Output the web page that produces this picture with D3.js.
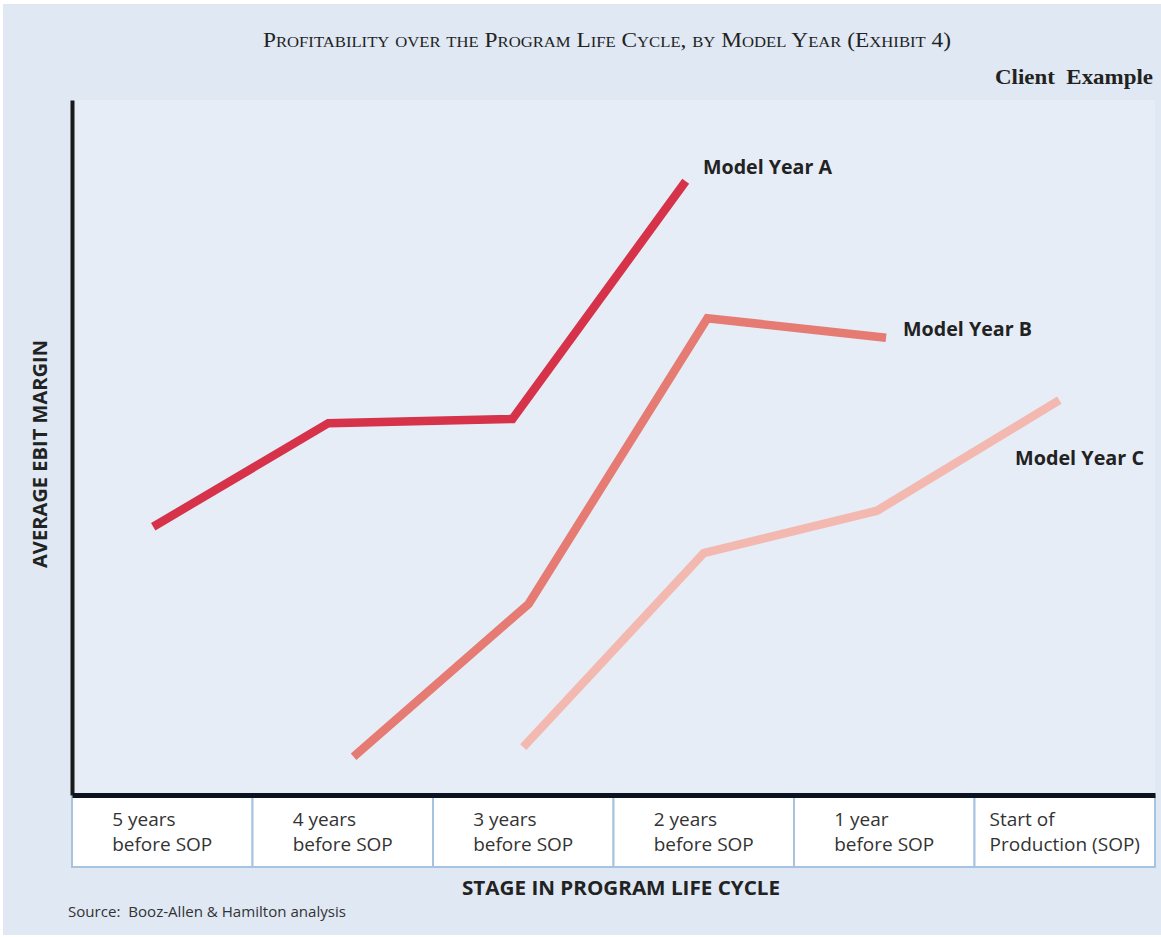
<!DOCTYPE html>
<html>
<head>
<meta charset="utf-8">
<script src="https://cdn.jsdelivr.net/npm/d3@7"></script>
<style>
  body { margin: 0; background: #fff; }
  svg { display: block; }
</style>
</head>
<body>
<div id="chart"></div>
<script>
// stages on the x axis (one table cell each)
const stages = [
  ["5 years", "before SOP"],
  ["4 years", "before SOP"],
  ["3 years", "before SOP"],
  ["2 years", "before SOP"],
  ["1 year", "before SOP"],
  ["Start of", "Production (SOP)"]
];

// series: stage position (0 = 5 years before SOP) and relative EBIT margin (0-100, unitless)
const stageA = [-0.05, 0.92, 1.94, 2.90];
const marginA = [38.6, 53.5, 54.1, 88.3];
const stageB = [1.06, 2.03, 3.02, 4.01];
const marginB = [5.5, 27.5, 68.6, 65.8];
const stageC = [2.0, 3.0, 3.96, 4.97];
const marginC = [6.9, 34.8, 40.9, 56.8];

const seriesNames = ["Model Year A", "Model Year B", "Model Year C"];
const seriesColors = ["#d6324a", "#e57b72", "#f3b9b0"];

const W = 1161, H = 937;
const plot = { left: 72, right: 1155, top: 100, bottom: 795 };

const svg = d3.select("#chart").append("svg")
  .attr("width", W).attr("height", H);

// backgrounds
svg.append("rect").attr("x", 3).attr("y", 4).attr("width", W - 3).attr("height", H - 6)
  .attr("fill", "#dfe8f3");
svg.append("rect").attr("x", plot.left).attr("y", plot.top)
  .attr("width", plot.right - plot.left).attr("height", plot.bottom - plot.top)
  .attr("fill", "#e6edf7");

// scales
let xBand = d3.scaleBand().domain(d3.range(stages.length)).range([plot.left, plot.right]);
let xPos = d3.scaleLinear().domain([-0.5, stages.length - 0.5]).range([plot.left, plot.right]);
let y = d3.scaleLinear().domain([0, 100]).range([plot.bottom, plot.top]);

// title
svg.append("text")
  .attr("x", 607).attr("y", 47)
  .attr("text-anchor", "middle")
  .attr("textLength", 688)
  .attr("lengthAdjust", "spacingAndGlyphs")
  .style("font-family", "'Liberation Serif', serif")
  .style("font-variant", "small-caps")
  .style("font-size", "21px")
  .style("fill", "#222")
  .text("Profitability over the Program Life Cycle, by Model Year (Exhibit 4)");

svg.append("text")
  .attr("x", 1153).attr("y", 84)
  .attr("text-anchor", "end")
  .attr("textLength", 158)
  .attr("lengthAdjust", "spacingAndGlyphs")
  .style("white-space", "pre")
  .style("font-family", "'Liberation Serif', serif")
  .style("font-weight", "bold")
  .style("font-size", "22px")
  .style("fill", "#222")
  .text("Client  Example");

// table of stages under the x axis
let cells = svg.selectAll(".cell")
  .data(stages)
  .enter()
  .append("g")
  .attr("class", "cell")
  .attr("transform", (d, i) => "translate(" + xBand(i) + ",797)");

cells.append("rect")
  .attr("width", xBand.bandwidth())
  .attr("height", 70)
  .attr("fill", "#fff")
  .attr("stroke", "#a8c3df")
  .attr("stroke-width", 2);

cells.each(function (d) {
  let g = d3.select(this);
  let t = g.append("text")
    .style("font-family", "'Open Sans', sans-serif")
    .style("font-size", "19px")
    .style("fill", "#333");
  t.selectAll("tspan")
    .data(d)
    .enter()
    .append("tspan")
    .attr("dy", (s, i) => i === 0 ? 29 : 25)
    .attr("x", 0)
    .text(s => s);
  let maxW = d3.max(t.selectAll("tspan").nodes(), n => n.getComputedTextLength());
  t.attr("transform", "translate(" + (xBand.bandwidth() / 2 - maxW / 2) + ",0)");
});

// axes
svg.append("g")
  .attr("class", "y-axis")
  .attr("transform", "translate(" + plot.left + ",0)")
  .call(d3.axisLeft(y).ticks(0).tickSize(0))
  .select(".domain")
  .attr("stroke", "#1a1a1a")
  .attr("stroke-width", 4);

svg.append("g")
  .attr("class", "x-axis")
  .attr("transform", "translate(0," + plot.bottom + ")")
  .call(d3.axisBottom(xPos).ticks(0).tickSize(0))
  .select(".domain")
  .attr("stroke", "#0d1220")
  .attr("stroke-width", 5);

// lines
const series = [
  { name: seriesNames[0], xs: stageA, ys: marginA, color: seriesColors[0] },
  { name: seriesNames[1], xs: stageB, ys: marginB, color: seriesColors[1] },
  { name: seriesNames[2], xs: stageC, ys: marginC, color: seriesColors[2] }
];

let line = d3.line().x(d => xPos(d[0])).y(d => y(d[1]));

svg.selectAll(".series")
  .data(series)
  .enter()
  .append("path")
  .attr("class", "series")
  .attr("d", d => line(d.xs.map((x, i) => [x, d.ys[i]])))
  .attr("fill", "none")
  .attr("stroke", d => d.color)
  .attr("stroke-width", 8.5)
  .attr("stroke-linejoin", "miter");

// series labels
const labelPos = [[703, 174], [903, 336], [1015, 465]];
svg.selectAll(".series-label")
  .data(series)
  .enter()
  .append("text")
  .attr("class", "series-label")
  .attr("x", (d, i) => labelPos[i][0])
  .attr("y", (d, i) => labelPos[i][1])
  .attr("textLength", 129)
  .attr("lengthAdjust", "spacingAndGlyphs")
  .style("font-family", "'Open Sans', sans-serif")
  .style("font-weight", "bold")
  .style("font-size", "19px")
  .style("fill", "#222")
  .text(d => d.name);

// axis titles
svg.append("text")
  .attr("x", 621).attr("y", 895)
  .attr("text-anchor", "middle")
  .attr("textLength", 318)
  .attr("lengthAdjust", "spacingAndGlyphs")
  .style("font-family", "'Open Sans', sans-serif")
  .style("font-weight", "bold")
  .style("font-size", "19px")
  .style("fill", "#222")
  .text("STAGE IN PROGRAM LIFE CYCLE");

svg.append("text")
  .attr("transform", "translate(47,454) rotate(-90)")
  .attr("text-anchor", "middle")
  .attr("textLength", 228)
  .attr("lengthAdjust", "spacingAndGlyphs")
  .style("font-family", "'Open Sans', sans-serif")
  .style("font-weight", "bold")
  .style("font-size", "19px")
  .style("fill", "#222")
  .text("AVERAGE EBIT MARGIN");

// source
svg.append("text")
  .attr("x", 68).attr("y", 917)
  .attr("textLength", 278)
  .attr("lengthAdjust", "spacingAndGlyphs")
  .style("white-space", "pre")
  .style("font-family", "'Open Sans', sans-serif")
  .style("font-size", "15px")
  .style("fill", "#333")
  .text("Source:  Booz-Allen & Hamilton analysis");
</script>
</body>
</html>
